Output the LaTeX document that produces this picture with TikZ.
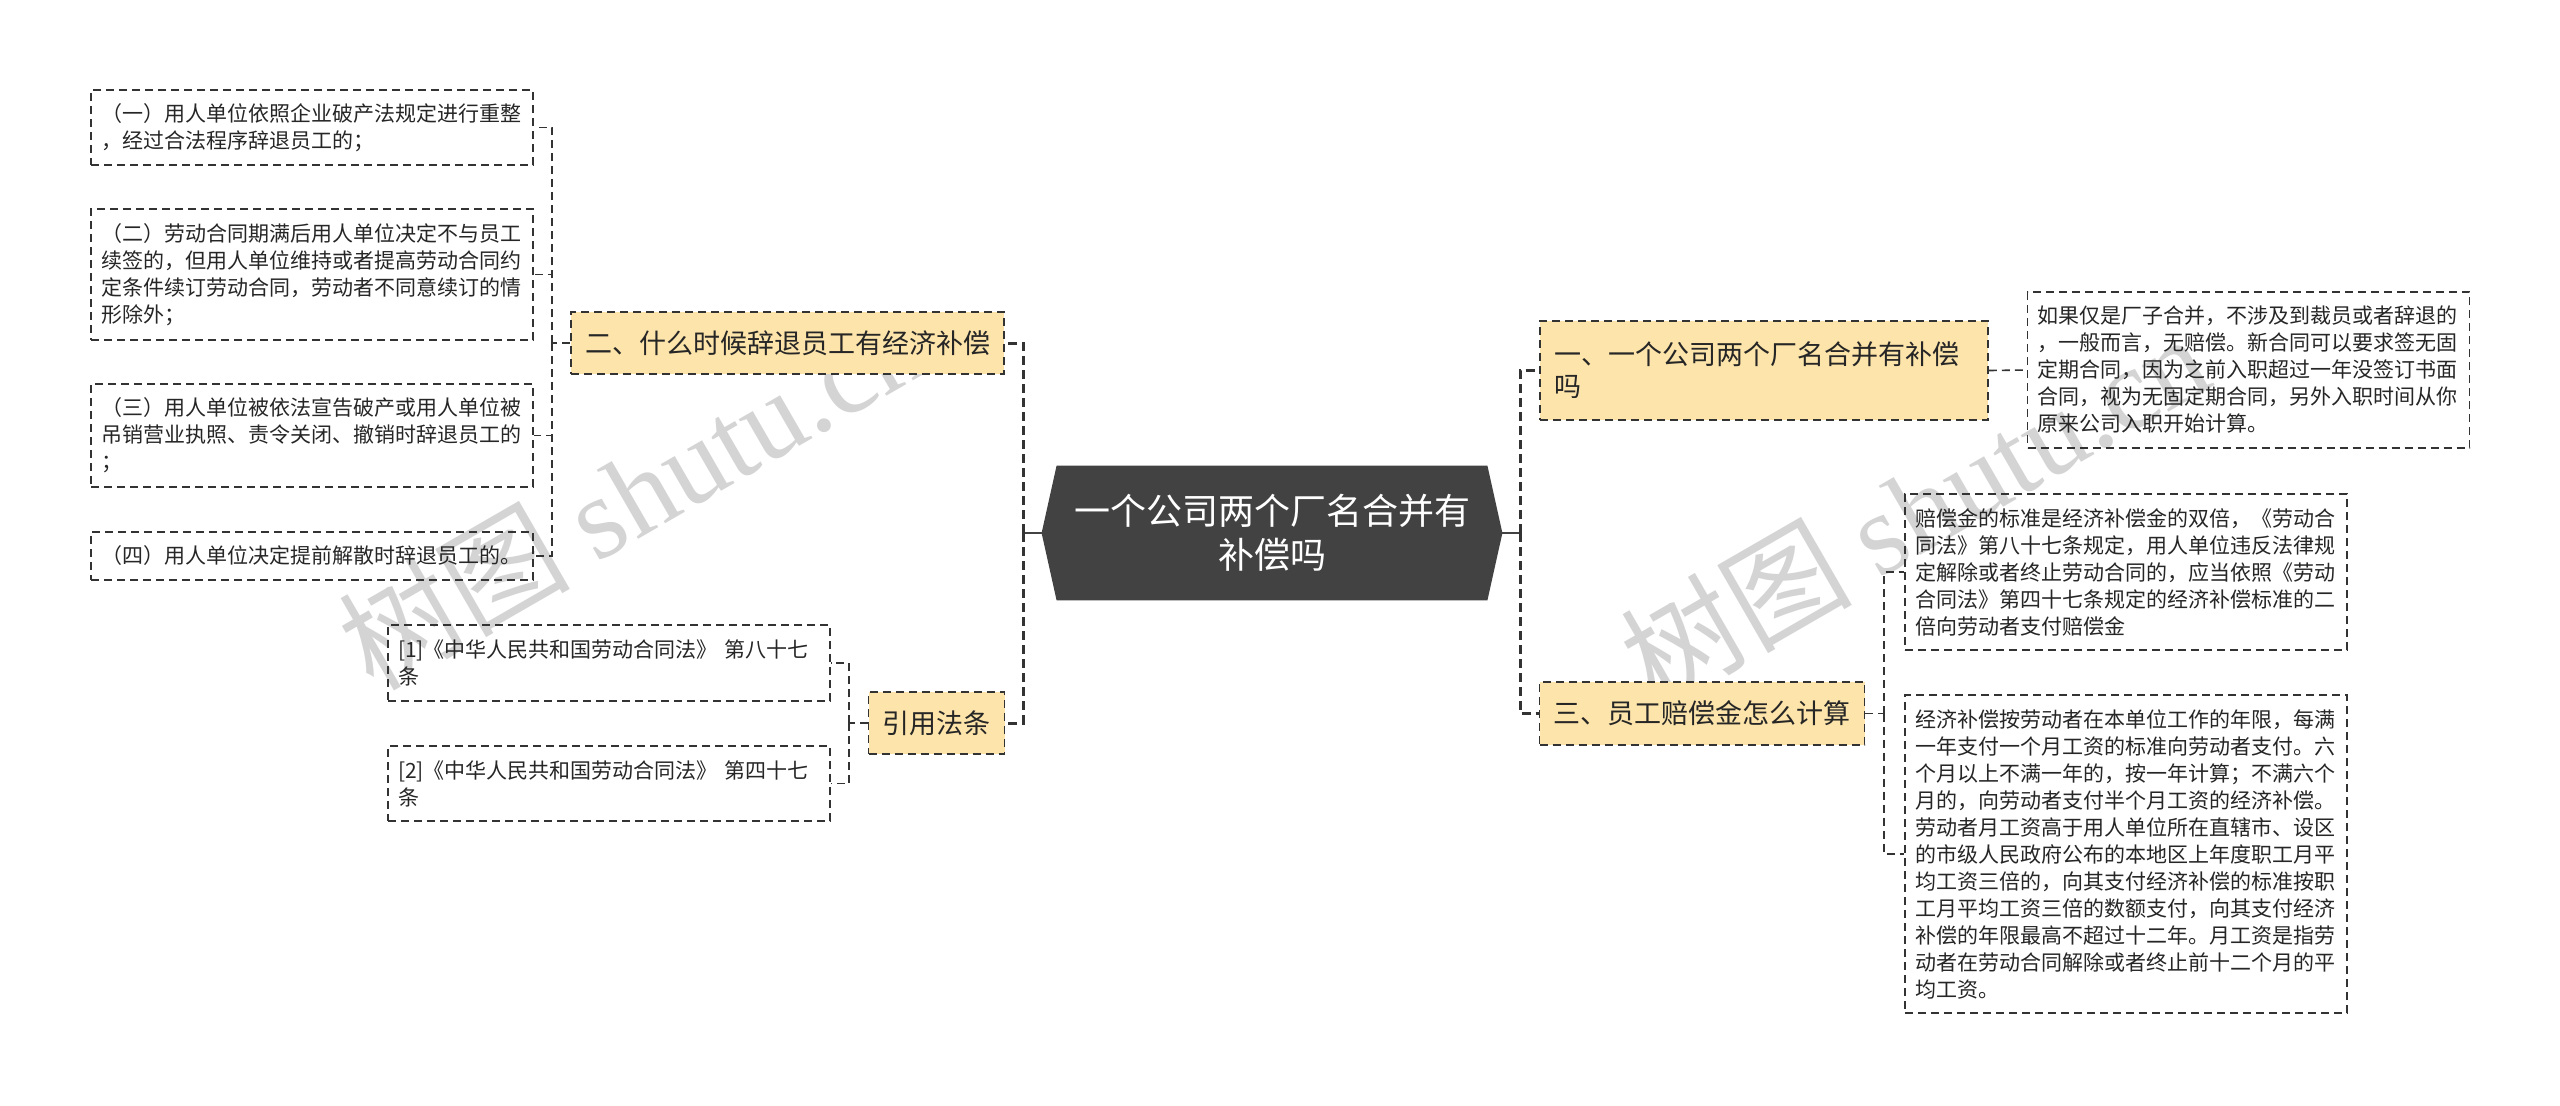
\documentclass[tikz,border=0pt]{standalone}
\usepackage{fontspec}
\setmainfont{Noto Sans CJK SC}
\newfontfamily\wmserif{Liberation Serif}
\usetikzlibrary{backgrounds}
\definecolor{linec}{HTML}{333333}
\definecolor{textc}{HTML}{262626}
\definecolor{branchfill}{HTML}{FCE4AA}
\definecolor{hexfill}{HTML}{424242}
\definecolor{wmc}{HTML}{D4D4D4}
\begin{document}
\begin{tikzpicture}[x=0.5pt,y=-0.5pt,
 detail/.style={draw=linec, line width=0.85pt, dash pattern=on 4pt off 2.5pt, text=textc, align=left, text width=211pt, inner xsep=5pt, inner ysep=0pt, font=\fontsize{10.5pt}{13.5pt}\selectfont},
 branch/.style={draw=linec, fill=branchfill, line width=0.85pt, dash pattern=on 4pt off 2.5pt, text=textc, align=left, inner xsep=7pt, inner ysep=0pt, font=\fontsize{13.5pt}{16pt}\selectfont},
 mainconn/.style={draw=linec, line width=1.5pt, dash pattern=on 4.5pt off 2.5pt},
 subconn/.style={draw=linec, line width=0.8pt, dash pattern=on 4pt off 2.5pt},
 rootlink/.style={draw=hexfill, line width=1.3pt},
 wmark/.style={rotate=30, text=wmc, inner sep=0pt, font=\fontsize{58pt}{62pt}\selectfont},
]
\useasboundingbox (0,0) rectangle (2560,1105);
\begin{pgfonlayer}{background}
\fill[white] (0,0) rectangle (2560,1105);
\node[wmark] (wm1) at (632,492) {树图 {\wmserif shutu.cn}};
\node[wmark] (wm2) at (1914,508) {树图 {\wmserif shutu.cn}};
\end{pgfonlayer}

% root
\node[minimum width=230pt, minimum height=67pt, inner sep=0pt, text=white, align=center,
      font=\fontsize{18pt}{22pt}\selectfont] (root) at (1272,533) {一个公司两个厂名合并有\\补偿吗};
\begin{pgfonlayer}{background}
\fill[hexfill] (root.west) -- ([xshift=7.5pt]root.north west) -- ([xshift=-7.5pt]root.north east)
  -- (root.east) -- ([xshift=-7.5pt]root.south east) -- ([xshift=7.5pt]root.south west) -- cycle;
\end{pgfonlayer}

% left branches
\node[branch, minimum width=216.5pt, minimum height=31pt] (B2) at (787.5,343) {二、什么时候辞退员工有经济补偿};
\node[branch, minimum width=67.5pt, minimum height=31pt] (Bref) at (936.5,723) {引用法条};

\node[detail, minimum height=37.5pt] (L1) at (312,127.5) {（一）用人单位依照企业破产法规定进行重整\\，经过合法程序辞退员工的；};
\node[detail, minimum height=65.5pt] (L2) at (312,274.5) {（二）劳动合同期满后用人单位决定不与员工\\续签的，但用人单位维持或者提高劳动合同约\\定条件续订劳动合同，劳动者不同意续订的情\\形除外；};
\node[detail, minimum height=51.5pt] (L3) at (312,435.5) {（三）用人单位被依法宣告破产或用人单位被\\吊销营业执照、责令关闭、撤销时辞退员工的\\；};
\node[detail, minimum height=24pt] (L4) at (312,556) {（四）用人单位决定提前解散时辞退员工的。};

\node[detail, minimum height=38pt] (R1) at (609,663) {[1]《中华人民共和国劳动合同法》~第八十七\\条};
\node[detail, minimum height=37.5pt] (R2) at (609,783.5) {[2]《中华人民共和国劳动合同法》~第四十七\\条};

% right branches
\node[branch, text width=210pt, minimum width=224pt, minimum height=49.5pt] (B1) at (1764,370.5) {一、一个公司两个厂名合并有补偿\\吗};
\node[branch, minimum width=162pt, minimum height=31.5pt] (B3) at (1702,713.5) {三、员工赔偿金怎么计算};

\node[detail, minimum height=78pt] (D0) at (2248.5,370) {如果仅是厂子合并，不涉及到裁员或者辞退的\\，一般而言，无赔偿。新合同可以要求签无固\\定期合同，因为之前入职超过一年没签订书面\\合同，视为无固定期合同，另外入职时间从你\\原来公司入职开始计算。};
\node[detail, minimum height=78pt] (D1) at (2126,572) {赔偿金的标准是经济补偿金的双倍，《劳动合\\同法》第八十七条规定，用人单位违反法律规\\定解除或者终止劳动合同的，应当依照《劳动\\合同法》第四十七条规定的经济补偿标准的二\\倍向劳动者支付赔偿金};
\node[detail, minimum height=159pt] (D2) at (2126,854) {经济补偿按劳动者在本单位工作的年限，每满\\一年支付一个月工资的标准向劳动者支付。六\\个月以上不满一年的，按一年计算；不满六个\\月的，向劳动者支付半个月工资的经济补偿。\\劳动者月工资高于用人单位所在直辖市、设区\\的市级人民政府公布的本地区上年度职工月平\\均工资三倍的，向其支付经济补偿的标准按职\\工月平均工资三倍的数额支付，向其支付经济\\补偿的年限最高不超过十二年。月工资是指劳\\动者在劳动合同解除或者终止前十二个月的平\\均工资。};

% junctions
\coordinate (jl) at (1023,533);
\coordinate (jr) at (1520,533);
\coordinate (bl) at (552,343);
\coordinate (br) at (849,723);
\coordinate (b3) at (1884,713.5);

% root links
\draw[rootlink] (root.west) -- (jl);
\draw[rootlink] (jl) ++(0,-8) -- ++(0,16);
\draw[rootlink] (root.east) -- (jr);
\draw[rootlink] (jr) ++(0,-8) -- ++(0,16);

% main connectors
\draw[mainconn] (jl) |- (B2.east);
\draw[mainconn] (jl) |- (Bref.east);
\draw[mainconn] (jr) |- (B1.west);
\draw[mainconn] (jr) |- (B3.west);

% sub connectors
\draw[subconn] (B2.west) -- (bl);
\draw[subconn] (bl) |- (L1.east);
\draw[subconn] (bl) |- (L2.east);
\draw[subconn] (bl) |- (L3.east);
\draw[subconn] (bl) |- (L4.east);
\draw[subconn] (Bref.west) -- (br);
\draw[subconn] (br) |- (R1.east);
\draw[subconn] (br) |- (R2.east);
\draw[subconn] (B1.east) -- (D0.west);
\draw[subconn] (B3.east) -- (b3);
\draw[subconn] (b3) |- (D1.west);
\draw[subconn] (b3) |- (D2.west);
\end{tikzpicture}
\end{document}
